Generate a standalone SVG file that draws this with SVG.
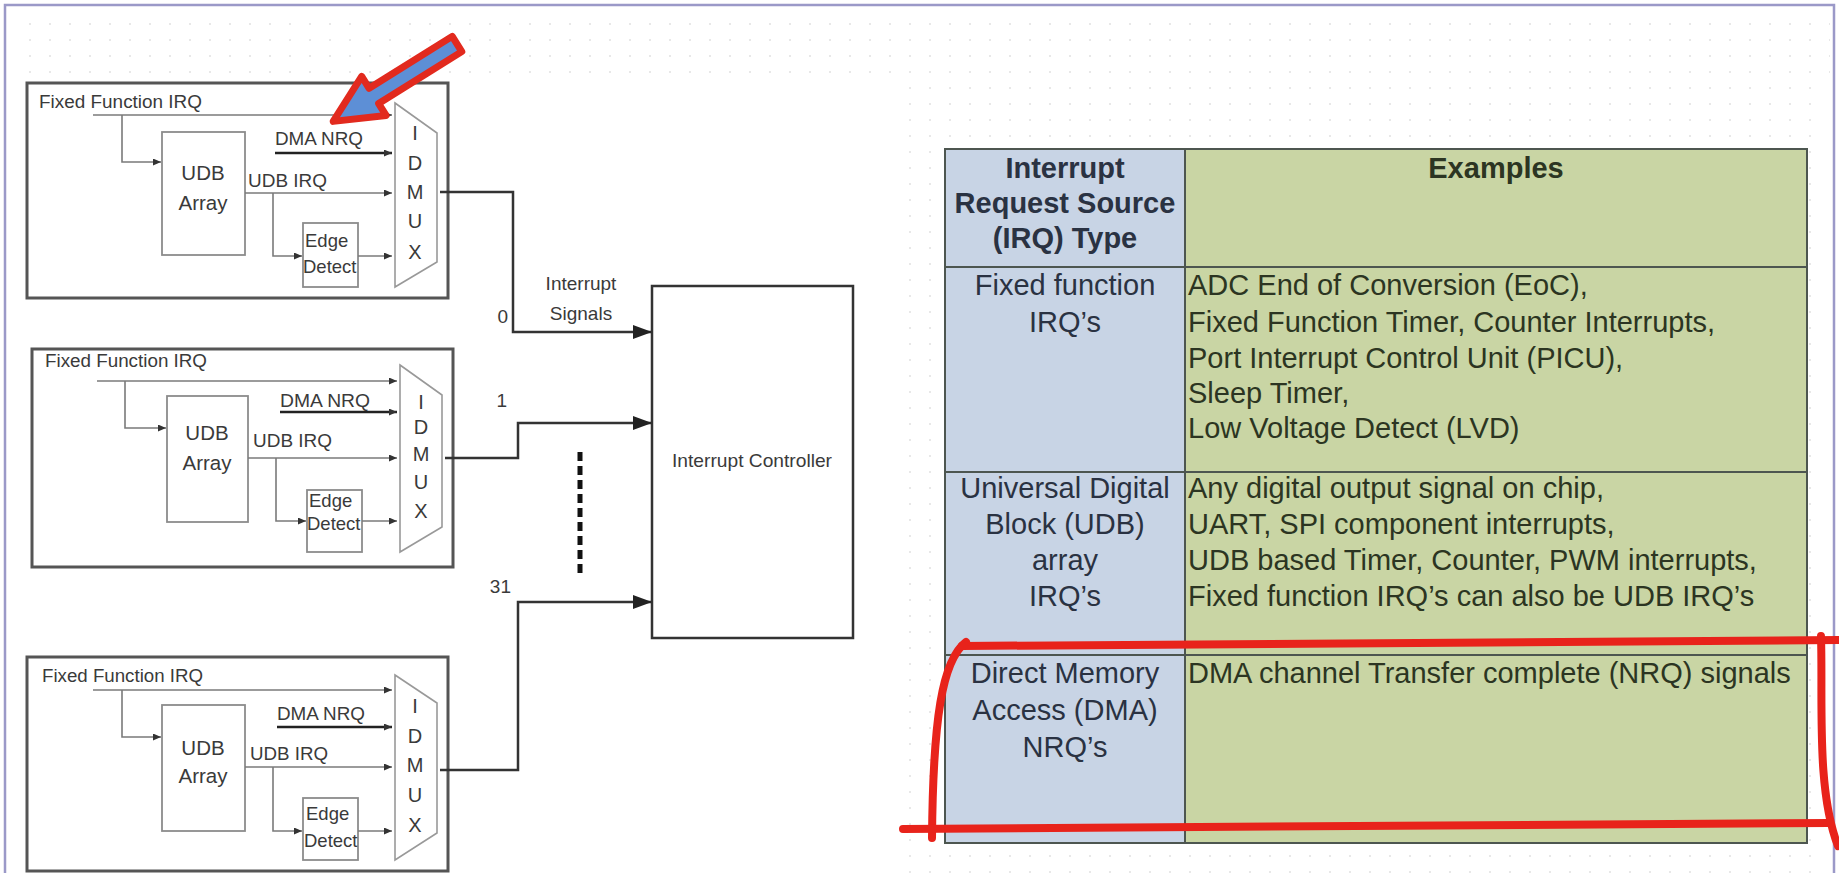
<svg xmlns="http://www.w3.org/2000/svg" width="1839" height="873" viewBox="0 0 1839 873">
<style>
.blk{fill:none;stroke:#555;stroke-width:3}
.ib{fill:none;stroke:#8c8c8c;stroke-width:1.8}
.mux{fill:#fff;stroke:#999;stroke-width:1.6}
.ln{fill:none;stroke:#7a7a7a;stroke-width:1.6}
.dl{fill:none;stroke:#222;stroke-width:2.4}
.bt{font-family:"Liberation Sans",Arial,sans-serif;font-size:18px;fill:#3a3a3a}
.ut{font-family:"Liberation Sans",Arial,sans-serif;font-size:20.5px;fill:#3a3a3a;text-anchor:middle}
.et{font-family:"Liberation Sans",Arial,sans-serif;font-size:18.5px;fill:#3a3a3a}
.mx{font-family:"Liberation Sans",Arial,sans-serif;font-size:20px;fill:#3a3a3a;text-anchor:middle}
.cn{fill:none;stroke:#333;stroke-width:2.5}
.lb{font-family:"Liberation Sans",Arial,sans-serif;font-size:19px;fill:#3a3a3a}
.tb{font-family:"Liberation Sans",Arial,sans-serif;font-size:29px}
.hd{font-weight:bold}
.lc{fill:#2a3242;text-anchor:middle}
.rc{fill:#2c3522}
.red{fill:none;stroke:#e8231b;stroke-width:8;stroke-linecap:round}
</style>
<defs>
<pattern id="dots" width="20" height="16" patternUnits="userSpaceOnUse">
<circle cx="10" cy="8" r="1.1" fill="#e3e3e3"/>
</pattern>
<marker id="sm" markerUnits="userSpaceOnUse" markerWidth="8" markerHeight="7" refX="8" refY="3.5" orient="auto">
<path d="M0,0 L8,3.5 L0,7 z" fill="#333"/>
</marker>
<marker id="big" markerUnits="userSpaceOnUse" markerWidth="19" markerHeight="14" refX="19" refY="7" orient="auto">
<path d="M0,0 L19,7 L0,14 z" fill="#222"/>
</marker>
</defs>
<rect width="1839" height="873" fill="#fff"/>
<rect x="15" y="14" width="1815" height="66" fill="url(#dots)"/>
<rect x="900" y="80" width="925" height="793" fill="url(#dots)"/>
<path d="M5,880 V5 H1834 V880" fill="none" stroke="#9b99c8" stroke-width="2.5"/>

<g id="block0" transform="translate(27,83)">
<rect x="0" y="0" width="421" height="215" class="blk"/>
<text x="12" y="25" class="bt" textLength="163" lengthAdjust="spacingAndGlyphs">Fixed Function IRQ</text>
<path class="ln" d="M66,32 H365" marker-end="url(#sm)"/>
<path class="ln" d="M95,32 V79 H134" marker-end="url(#sm)"/>
<rect x="135" y="49" width="83" height="123" class="ib"/>
<text x="176" y="97" class="ut">UDB</text>
<text x="176" y="127" class="ut">Array</text>
<text x="248" y="62" class="bt" textLength="88" lengthAdjust="spacingAndGlyphs">DMA NRQ</text>
<path class="dl" d="M248,70 H365" marker-end="url(#sm)"/>
<text x="221" y="104" class="bt" textLength="79" lengthAdjust="spacingAndGlyphs">UDB IRQ</text>
<path class="ln" d="M218,110 H365" marker-end="url(#sm)"/>
<path class="ln" d="M246,110 V173 H275" marker-end="url(#sm)"/>
<rect x="276" y="140" width="55" height="64" class="ib"/>
<text x="278" y="164" class="et">Edge</text>
<text x="276" y="190" class="et">Detect</text>
<path class="ln" d="M331,173 H365" marker-end="url(#sm)"/>
<polygon points="368,20 410,50 410,179 368,204" class="mux"/>
<text x="388" y="57" class="mx">I</text>
<text x="388" y="87" class="mx">D</text>
<text x="388" y="116" class="mx">M</text>
<text x="388" y="145" class="mx">U</text>
<text x="388" y="176" class="mx">X</text>
</g>

<g id="block1" transform="translate(32,349)">
<rect x="0" y="0" width="421" height="218" class="blk"/>
<text x="13" y="18" class="bt" textLength="162" lengthAdjust="spacingAndGlyphs">Fixed Function IRQ</text>
<path class="ln" d="M65,32 H365" marker-end="url(#sm)"/>
<path class="ln" d="M93,32 V79 H134" marker-end="url(#sm)"/>
<rect x="135" y="47" width="81" height="126" class="ib"/>
<text x="175" y="91" class="ut">UDB</text>
<text x="175" y="121" class="ut">Array</text>
<text x="248" y="58" class="bt" textLength="90" lengthAdjust="spacingAndGlyphs">DMA NRQ</text>
<path class="dl" d="M248,63 H365" marker-end="url(#sm)"/>
<text x="221" y="98" class="bt" textLength="79" lengthAdjust="spacingAndGlyphs">UDB IRQ</text>
<path class="ln" d="M216,109 H365" marker-end="url(#sm)"/>
<path class="ln" d="M244,109 V172 H274" marker-end="url(#sm)"/>
<rect x="275" y="141" width="55" height="62" class="ib"/>
<text x="277" y="158" class="et">Edge</text>
<text x="275" y="181" class="et">Detect</text>
<path class="ln" d="M330,172 H365" marker-end="url(#sm)"/>
<polygon points="368,16 410,46 410,178 368,203" class="mux"/>
<text x="389" y="60" class="mx">I</text>
<text x="389" y="85" class="mx">D</text>
<text x="389" y="112" class="mx">M</text>
<text x="389" y="140" class="mx">U</text>
<text x="389" y="169" class="mx">X</text>
</g>

<g id="block2" transform="translate(27,657)">
<rect x="0" y="0" width="421" height="214" class="blk"/>
<text x="15" y="25" class="bt" textLength="161" lengthAdjust="spacingAndGlyphs">Fixed Function IRQ</text>
<path class="ln" d="M66,33 H365" marker-end="url(#sm)"/>
<path class="ln" d="M95,33 V80 H134" marker-end="url(#sm)"/>
<rect x="135" y="48" width="83" height="126" class="ib"/>
<text x="176" y="98" class="ut">UDB</text>
<text x="176" y="126" class="ut">Array</text>
<text x="250" y="63" class="bt" textLength="88" lengthAdjust="spacingAndGlyphs">DMA NRQ</text>
<path class="dl" d="M250,70 H365" marker-end="url(#sm)"/>
<text x="223" y="103" class="bt" textLength="78" lengthAdjust="spacingAndGlyphs">UDB IRQ</text>
<path class="ln" d="M218,110 H365" marker-end="url(#sm)"/>
<path class="ln" d="M246,110 V174 H275" marker-end="url(#sm)"/>
<rect x="276" y="141" width="55" height="62" class="ib"/>
<text x="279" y="163" class="et">Edge</text>
<text x="277" y="190" class="et">Detect</text>
<path class="ln" d="M331,174 H365" marker-end="url(#sm)"/>
<polygon points="368,18 410,46 410,176 368,203" class="mux"/>
<text x="388" y="56" class="mx">I</text>
<text x="388" y="86" class="mx">D</text>
<text x="388" y="115" class="mx">M</text>
<text x="388" y="145" class="mx">U</text>
<text x="388" y="175" class="mx">X</text>
</g>

<g id="controller">
<rect x="652" y="286" width="201" height="352" fill="#fff" stroke="#333" stroke-width="2.5"/>
<text x="752" y="467" class="lb" text-anchor="middle" textLength="160" lengthAdjust="spacingAndGlyphs">Interrupt Controller</text>
</g>

<g id="connectors">
<path class="cn" d="M440,192 H513 V332 H652" marker-end="url(#big)"/>
<path class="cn" d="M445,458 H518 V423 H652" marker-end="url(#big)"/>
<path class="cn" d="M440,770 H518 V602 H652" marker-end="url(#big)"/>
<path d="M580,452 V578" fill="none" stroke="#111" stroke-width="5" stroke-dasharray="9,5"/>
</g>
<g id="labels">
<text x="581" y="290" class="lb" text-anchor="middle">Interrupt</text>
<text x="581" y="320" class="lb" text-anchor="middle">Signals</text>
<text x="508" y="323" class="lb" text-anchor="end">0</text>
<text x="507" y="407" class="lb" text-anchor="end">1</text>
<text x="511" y="593" class="lb" text-anchor="end">31</text>
</g>

<g id="table">
<rect x="945" y="149" width="240" height="694" fill="#c8d4e5"/>
<rect x="1185" y="149" width="622" height="694" fill="#c9d5a4"/>
<g fill="none" stroke="#4d5650" stroke-width="2">
<rect x="945" y="149" width="862" height="694"/>
<path d="M1185,149 V843 M945,267 H1807 M945,472 H1807 M945,655 H1807"/>
</g>
<g class="tb">
<text x="1065" y="178" class="lc hd">Interrupt</text>
<text x="1065" y="213" class="lc hd">Request Source</text>
<text x="1065" y="248" class="lc hd">(IRQ) Type</text>
<text x="1496" y="178" class="rc hd" text-anchor="middle">Examples</text>
<text x="1065" y="295" class="lc">Fixed function</text>
<text x="1065" y="332" class="lc">IRQ’s</text>
<text x="1188" y="295" class="rc">ADC End of Conversion (EoC),</text>
<text x="1188" y="332" class="rc">Fixed Function Timer, Counter Interrupts,</text>
<text x="1188" y="368" class="rc">Port Interrupt Control Unit (PICU),</text>
<text x="1188" y="403" class="rc">Sleep Timer,</text>
<text x="1188" y="438" class="rc">Low Voltage Detect (LVD)</text>
<text x="1065" y="498" class="lc">Universal Digital</text>
<text x="1065" y="534" class="lc">Block (UDB)</text>
<text x="1065" y="570" class="lc">array</text>
<text x="1065" y="606" class="lc">IRQ’s</text>
<text x="1188" y="498" class="rc">Any digital output signal on chip,</text>
<text x="1188" y="534" class="rc">UART, SPI component interrupts,</text>
<text x="1188" y="570" class="rc">UDB based Timer, Counter, PWM interrupts,</text>
<text x="1188" y="606" class="rc">Fixed function IRQ’s can also be UDB IRQ’s</text>
<text x="1065" y="683" class="lc">Direct Memory</text>
<text x="1065" y="720" class="lc">Access (DMA)</text>
<text x="1065" y="757" class="lc">NRQ’s</text>
<text x="1188" y="683" class="rc">DMA channel Transfer complete (NRQ) signals</text>
</g>
</g>

<g id="annotations">
<path class="red" d="M962,646 L1839,640"/>
<path class="red" d="M966,642 C942,660 933,720 932,838"/>
<path class="red" d="M903,829 L1830,823"/>
<path class="red" d="M1821,636 C1823,700 1816,790 1838,846"/>
<polygon transform="translate(457,44) rotate(148)" points="0,-9 98,-9 98,-23 146,0 98,23 98,9 0,9" fill="#5d8fd6" stroke="#e22a1e" stroke-width="7" stroke-linejoin="round"/>
</g>
</svg>
